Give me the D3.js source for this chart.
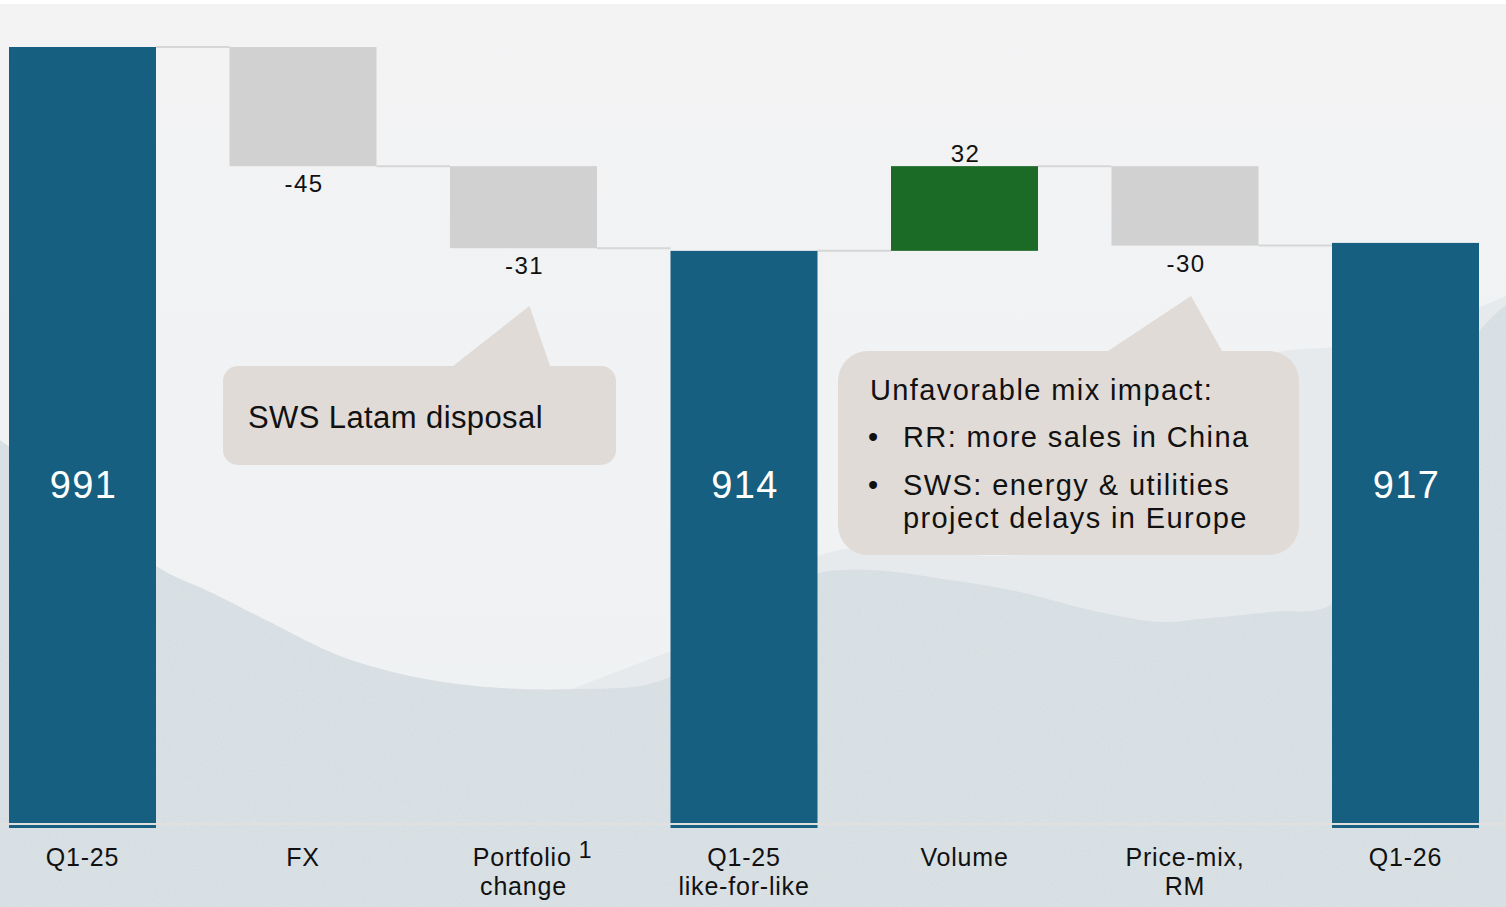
<!DOCTYPE html>
<html>
<head>
<meta charset="utf-8">
<script src="https://cdn.jsdelivr.net/npm/d3@7"></script>
<style>
  html, body { margin: 0; padding: 0; background: #f1f2f3; }
  svg { display: block; }
  text { font-family: "Liberation Sans", Arial, Helvetica, sans-serif; }
</style>
</head>
<body>
<svg id="chart" width="1506" height="907"></svg>
<script>
// ---- data ----
const categories = ["Q1-25", "FX", "Portfolio change", "Q1-25 like-for-like", "Volume", "Price-mix, RM", "Q1-26"];
const categoryLines = [["Q1-25"], ["FX"], ["Portfolio", "change"], ["Q1-25", "like-for-like"], ["Volume"], ["Price-mix,", "RM"], ["Q1-26"]];
const footnoteMarks = ["", "", "1", "", "", "", ""];
const values = [991, -45, -31, 914, 32, -30, 917];
const kinds = ["total", "delta", "delta", "total", "delta", "delta", "total"];
const axisFloor = 696;   // value axis is truncated at this level

const callout1Lines = ["SWS Latam disposal"];
const callout2Title = "Unfavorable mix impact:";
const callout2Bullets = [["RR: more sales in China"], ["SWS: energy & utilities", "project delays in Europe"]];

// ---- layout ----
const W = 1506, H = 907;
const svg = d3.select("#chart");

const colors = {
  total: "#165f80",
  negative: "#d1d1d1",
  positive: "#1b6b27",
  connector: "#d6d6d6",
  callout: "#e0dbd7",
  text: "#111111"
};

// ---- waterfall steps ----
let running = 0;
const steps = categories.map((c, i) => {
  let start, end;
  if (kinds[i] === "total") { start = axisFloor; end = values[i]; running = values[i]; }
  else { start = running; end = running + values[i]; running = end; }
  return { cat: c, lines: categoryLines[i], mark: footnoteMarks[i], value: values[i], kind: kinds[i], start, end };
});

const x = d3.scaleBand().domain(categories).range([9, 1479]).paddingInner(1 / 3).paddingOuter(0);
const y = d3.scaleLinear().domain([axisFloor, 991]).range([828, 47]);
const bw = x.bandwidth();

// ---- background: pale sky and misty hills ----
const defs = svg.append("defs");
const grain = defs.append("filter").attr("id", "grain").attr("x", 0).attr("y", 0).attr("width", 1).attr("height", 1);
grain.append("feTurbulence").attr("type", "fractalNoise").attr("baseFrequency", 0.85).attr("numOctaves", 2).attr("seed", 3).attr("result", "noise");
grain.append("feColorMatrix").attr("in", "noise").attr("type", "matrix")
  .attr("values", "0 0 0 0 0.55  0 0 0 0 0.6  0 0 0 0 0.63  0 0 0 0.9 -0.35").attr("result", "dots");
grain.append("feComposite").attr("in", "dots").attr("in2", "SourceGraphic").attr("operator", "in");

const sky = defs.append("linearGradient").attr("id", "sky").attr("x1", 0).attr("y1", 0).attr("x2", 0).attr("y2", 1);
sky.append("stop").attr("offset", "0%").attr("stop-color", "#f3f3f4");
sky.append("stop").attr("offset", "100%").attr("stop-color", "#eef1f3");

svg.append("rect").attr("width", W).attr("height", H).attr("fill", "url(#sky)");
svg.append("rect").attr("width", W).attr("height", 4).attr("fill", "#ffffff");

const hill = d3.line().curve(d3.curveCatmullRom.alpha(0.5));
const farRidge = [[700, 640], [818, 556], [900, 547], [1000, 556], [1090, 540], [1180, 440], [1262, 358], [1340, 346], [1420, 330], [1506, 296]];
const nearRidge = [[0, 440], [80, 500], [156, 566], [210, 592], [270, 622], [340, 656], [420, 678], [500, 688], [580, 689], [650, 684], [700, 660],
  [760, 600], [813, 574], [870, 570], [950, 580], [1020, 592], [1090, 610], [1160, 622], [1200, 619], [1270, 612], [1332, 604], [1400, 500], [1479, 332], [1506, 305]];

function closed(ridge) {
  return hill(ridge) + `L${W},${H}L0,${H}Z`;
}
svg.append("path").attr("d", closed(farRidge)).attr("fill", "#e6eaed");
svg.append("path").attr("d", closed(nearRidge)).attr("fill", "#d9e1e5");
svg.append("path").attr("d", closed(nearRidge)).attr("fill", "#c9d3d8").attr("filter", "url(#grain)").attr("opacity", 0.5);

// ---- connectors ----
const g = svg.append("g");
g.selectAll("line.connector")
  .data(steps.slice(0, -1))
  .join("line")
  .attr("class", "connector")
  .attr("x1", d => x(d.cat) + bw)
  .attr("x2", (d, i) => x(steps[i + 1].cat))
  .attr("y1", d => y(d.end))
  .attr("y2", d => y(d.end))
  .attr("stroke", colors.connector)
  .attr("stroke-width", 2);

// ---- bars ----
g.selectAll("rect.bar")
  .data(steps)
  .join("rect")
  .attr("class", "bar")
  .attr("x", d => x(d.cat))
  .attr("width", bw)
  .attr("y", d => y(Math.max(d.start, d.end)))
  .attr("height", d => Math.abs(y(d.start) - y(d.end)))
  .attr("fill", d => d.kind === "total" ? colors.total : (d.value < 0 ? colors.negative : colors.positive));

// baseline rule
g.append("line")
  .attr("x1", 0).attr("x2", W)
  .attr("y1", 824).attr("y2", 824)
  .attr("stroke", "#e2dfdf").attr("stroke-width", 2);

// ---- value labels ----
g.selectAll("text.total")
  .data(steps.filter(d => d.kind === "total"))
  .join("text")
  .attr("class", "total")
  .attr("x", d => x(d.cat) + bw / 2 + 1)
  .attr("y", 498)
  .attr("text-anchor", "middle")
  .attr("fill", "#ffffff")
  .attr("font-size", 38)
  .attr("letter-spacing", 1.3)
  .text(d => d.value);

g.selectAll("text.delta")
  .data(steps.filter(d => d.kind === "delta"))
  .join("text")
  .attr("class", "delta")
  .attr("x", d => x(d.cat) + bw / 2 + 1)
  .attr("y", d => d.value < 0 ? y(d.end) + 26 : y(d.end) - 4)
  .attr("text-anchor", "middle")
  .attr("fill", colors.text)
  .attr("font-size", 24)
  .attr("letter-spacing", 1.5)
  .text(d => d.value);

// ---- category labels ----
const cats = g.selectAll("text.cat")
  .data(steps)
  .join("text")
  .attr("class", "cat")
  .attr("text-anchor", "middle")
  .attr("fill", colors.text)
  .attr("font-size", 25)
  .attr("letter-spacing", 0.8);

cats.each(function (d) {
  const t = d3.select(this);
  const cx = x(d.cat) + bw / 2;
  d.lines.forEach((line, li) => {
    if (li === 0 && d.mark) {
      // first line carries the footnote mark; keep the pair centred together
      const sub = t.append("tspan").attr("x", cx + 9).attr("y", 866);
      sub.append("tspan").text(line);
      sub.append("tspan").attr("dx", 7).attr("dy", -8).attr("font-size", 23).text(d.mark);
    } else {
      t.append("tspan").attr("x", cx).attr("y", 866 + li * 29).attr("dy", 0).text(line);
    }
  });
});

// ---- callouts ----
function callout(box, tail, r) {
  const p = d3.path();
  p.moveTo(box.x + r, box.y);
  p.lineTo(tail[0][0], box.y);
  p.lineTo(tail[1][0], tail[1][1]);
  p.lineTo(tail[2][0], box.y);
  p.lineTo(box.x + box.w - r, box.y);
  p.arcTo(box.x + box.w, box.y, box.x + box.w, box.y + r, r);
  p.lineTo(box.x + box.w, box.y + box.h - r);
  p.arcTo(box.x + box.w, box.y + box.h, box.x + box.w - r, box.y + box.h, r);
  p.lineTo(box.x + r, box.y + box.h);
  p.arcTo(box.x, box.y + box.h, box.x, box.y + box.h - r, r);
  p.lineTo(box.x, box.y + r);
  p.arcTo(box.x, box.y, box.x + r, box.y, r);
  p.closePath();
  return p.toString();
}

const ann = svg.append("g");

// Portfolio change note
const pcX = x("Portfolio change") + bw / 2;
ann.append("path")
  .attr("d", callout({ x: 223, y: 366, w: 393, h: 99 }, [[453, 0], [pcX + 6, 306], [550, 0]], 15))
  .attr("fill", colors.callout);
ann.append("text")
  .attr("x", 248).attr("y", 428)
  .attr("font-size", 31).attr("letter-spacing", 0.4)
  .attr("fill", colors.text)
  .text(callout1Lines[0]);

// Price-mix note
const pmX = x("Price-mix, RM") + bw / 2;
ann.append("path")
  .attr("d", callout({ x: 838, y: 351, w: 461, h: 204 }, [[1108, 0], [pmX + 6, 296], [1222, 0]], 30))
  .attr("fill", colors.callout);
ann.append("text")
  .attr("x", 870).attr("y", 400)
  .attr("font-size", 29).attr("letter-spacing", 1.4)
  .attr("fill", colors.text)
  .text(callout2Title);

let by = 447;
callout2Bullets.forEach(lines => {
  ann.append("text").attr("x", 868).attr("y", by).attr("font-size", 29).attr("fill", colors.text).text("•");
  lines.forEach((line, li) => {
    ann.append("text")
      .attr("x", 903).attr("y", by + li * 33)
      .attr("font-size", 29).attr("letter-spacing", 1.4)
      .attr("fill", colors.text)
      .text(line);
  });
  by += 48;
});
</script>
</body>
</html>
